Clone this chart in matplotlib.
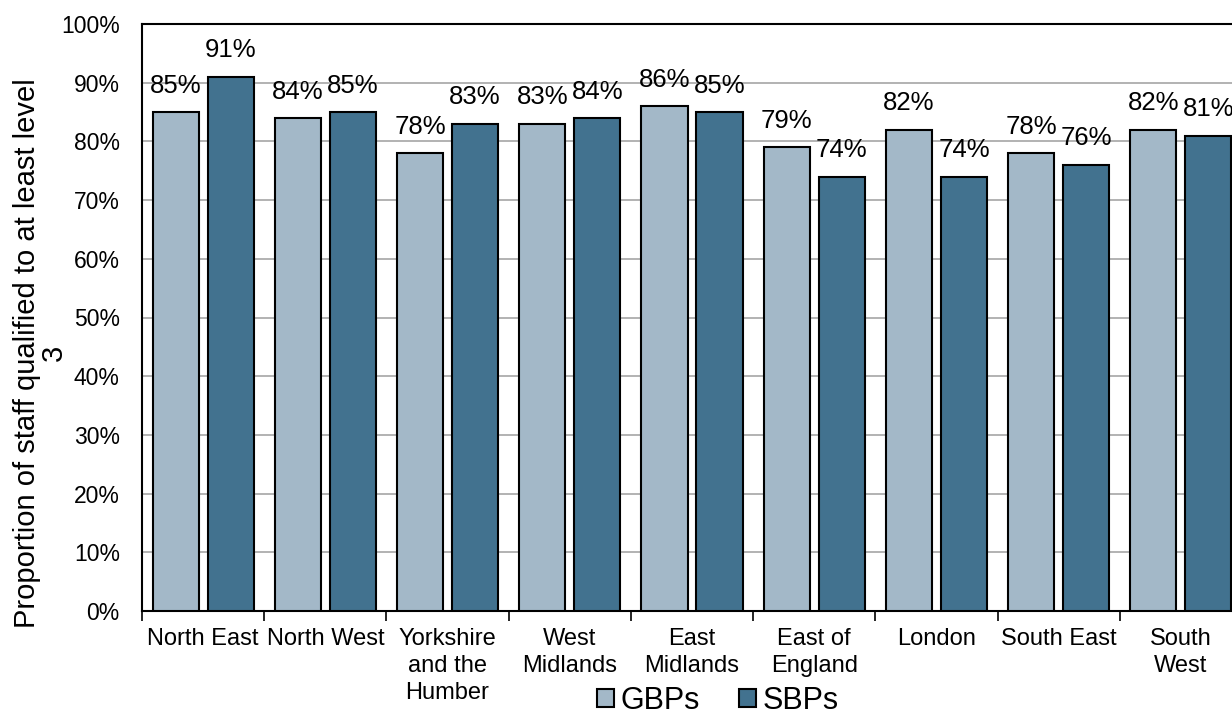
import matplotlib
matplotlib.use('Agg')
import matplotlib.pyplot as plt
import numpy as np
from matplotlib.ticker import FixedLocator, PercentFormatter

plt.rcParams['font.family'] = ['Liberation Sans', 'DejaVu Sans']

regions = ['North East', 'North West', 'Yorkshire\nand the\nHumber', 'West\nMidlands',
           'East\nMidlands', 'East of\nEngland', 'London', 'South East', 'South\nWest']
gbps = [85, 84, 78, 83, 86, 79, 82, 78, 82]
sbps = [91, 85, 83, 84, 85, 74, 74, 76, 81]

GBP_COLOR = '#a3b8c8'
SBP_COLOR = '#42728f'

fig = plt.figure(figsize=(12.32, 7.16), dpi=100)
# right edge runs a little past the canvas, as in the source layout
ax = fig.add_axes([142 / 1232, 105 / 716, 1100 / 1232, 587 / 716])

x = np.arange(len(regions))
width = 0.377
offset = 0.225
b1 = ax.bar(x - offset, gbps, width, color=GBP_COLOR, edgecolor='black',
            linewidth=1.5, label='GBPs', zorder=3)
b2 = ax.bar(x + offset, sbps, width, color=SBP_COLOR, edgecolor='black',
            linewidth=1.5, label='SBPs', zorder=3)

for bars, vals in ((b1, gbps), (b2, sbps)):
    for bar, v in zip(bars, vals):
        ax.annotate('{}%'.format(v), (bar.get_x() + bar.get_width() / 2, v),
                    xytext=(0, 19), textcoords='offset points',
                    ha='center', va='center', fontsize=18.5, zorder=4)

ax.set_xlim(-0.5, len(regions) - 0.5)
ax.set_ylim(0, 100)
ax.yaxis.set_major_locator(FixedLocator(np.arange(0, 101, 10)))
ax.yaxis.set_major_formatter(PercentFormatter(decimals=0))
ax.grid(axis='y', color='#a6a6a6', linewidth=1.2, zorder=0)

ax.set_xticks(x)
ax.set_xticklabels(regions, fontsize=17, linespacing=1.3)
ax.set_xticks(np.arange(-0.5, len(regions)), minor=True)
ax.tick_params(axis='x', which='major', length=0, pad=12)
ax.tick_params(axis='x', which='minor', length=7, width=1.2)
ax.tick_params(axis='y', length=0, pad=16, labelsize=16.5)

for side in ('left', 'bottom', 'top'):
    ax.spines[side].set_linewidth(1.5)
ax.spines['right'].set_visible(False)

ax.set_ylabel('Proportion of staff qualified to at least level\n3', fontsize=21,
              linespacing=0.95, rotation=90, ha='center', va='center',
              rotation_mode='default')
ax.yaxis.set_label_coords((40 - 142) / 1100, (611 - 353) / 587)

fig.legend(handles=[b1, b2], loc='center', bbox_to_anchor=(718 / 1232, 15 / 716),
           ncol=2, frameon=False, fontsize=22, handlelength=0.55,
           handleheight=0.55, handletextpad=0.2, columnspacing=1.3,
           borderpad=0, borderaxespad=0)

fig.savefig('out.png', dpi=100)
